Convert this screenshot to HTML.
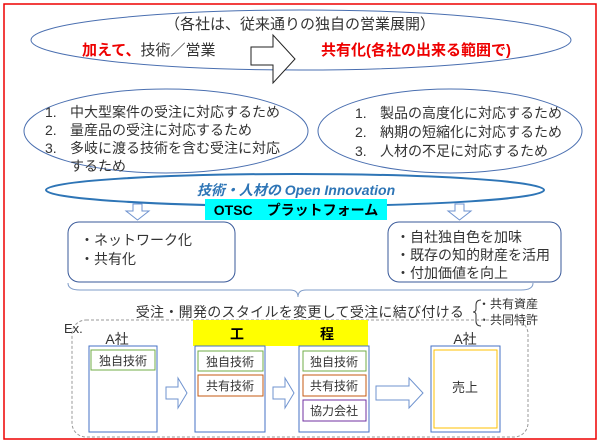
<!DOCTYPE html>
<html><head><meta charset="utf-8"><style>
html,body{margin:0;padding:0;background:#fff}
svg{display:block}
text{font-family:"Liberation Sans","Noto Sans CJK JP",sans-serif;fill:#333}
</style></head><body>
<svg width="600" height="442" viewBox="0 0 600 442" xmlns="http://www.w3.org/2000/svg">
<rect x="4" y="4" width="592" height="435" fill="#fff" stroke="#e00" stroke-width="1.5"/>
<ellipse cx="301" cy="40" rx="270" ry="30" fill="none" stroke="#4a6fb0" stroke-width="1"/>
<text x="300" y="29" font-size="15" text-anchor="middle">（各社は、従来通りの独自の営業展開）</text>
<text x="82" y="55" font-size="15"><tspan fill="#e00" font-weight="bold" style="fill:#e00">加えて、</tspan>技術／営業</text>
<polygon points="251,47 273,47 273,35 295,59 273,83 273,65 251,65" fill="#fff" stroke="#222" stroke-width="1"/>
<text x="321" y="55" font-size="15" font-weight="bold" style="fill:#e00">共有化(各社の出来る範囲で)</text>
<ellipse cx="166" cy="131" rx="142" ry="42" fill="#fff" stroke="#4a6fb0" stroke-width="1"/>
<g font-size="14">
<text x="45" y="117">1.</text><text x="70" y="117">中大型案件の受注に対応するため</text>
<text x="45" y="135">2.</text><text x="70" y="135">量産品の受注に対応するため</text>
<text x="45" y="153">3.</text><text x="70" y="153">多岐に渡る技術を含む受注に対応</text>
<text x="70" y="171">するため</text>
</g>
<ellipse cx="450" cy="131" rx="132" ry="42" fill="#fff" stroke="#4a6fb0" stroke-width="1"/>
<g font-size="14">
<text x="355" y="118">1.</text><text x="380" y="118">製品の高度化に対応するため</text>
<text x="355" y="137">2.</text><text x="380" y="137">納期の短縮化に対応するため</text>
<text x="355" y="156">3.</text><text x="380" y="156">人材の不足に対応するため</text>
</g>
<ellipse cx="295" cy="190" rx="249" ry="16" fill="#fff" stroke="#2e75b6" stroke-width="2"/>
<text x="296" y="195" font-size="14" text-anchor="middle" font-weight="bold" font-style="italic" style="fill:#2e75b6">技術・人材の Open Innovation</text>
<rect x="205" y="199" width="182" height="21" fill="#00ffff"/>
<text x="296" y="215" font-size="14" text-anchor="middle" font-weight="bold" style="fill:#000">OTSC　プラットフォーム</text>
<polygon points="133,204 142,204 142,211 149,211 137.5,220 126,211 133,211" fill="#fff" stroke="#6f93cf"/>
<polygon points="455,204 464,204 464,211 471,211 459.5,220 448,211 455,211" fill="#fff" stroke="#6f93cf"/>
<rect x="68" y="222" width="167" height="60" rx="11" fill="#fff" stroke="#3a5a9a"/>
<text x="80" y="245" font-size="14">・ネットワーク化</text>
<text x="80" y="264" font-size="14">・共有化</text>
<rect x="388" y="222" width="173" height="60" rx="11" fill="#fff" stroke="#3a5a9a"/>
<text x="396" y="242" font-size="14">・自社独自色を加味</text>
<text x="396" y="260" font-size="14">・既存の知的財産を活用</text>
<text x="396" y="278" font-size="14">・付加価値を向上</text>
<path d="M68,283 Q68,290 80,290 L290,290 Q298,290 298,297 Q298,290 306,290 L521,290 Q533,290 533,283" fill="none" stroke="#7f9cc8"/>
<text x="300" y="317" font-size="14" text-anchor="middle" letter-spacing="0.3">受注・開発のスタイルを変更して受注に結び付ける</text>
<path d="M481,300 Q476,300 476,305 L476,309 Q476,312 473,312 Q476,312 476,315 L476,321 Q476,326 481,326" fill="none" stroke="#333"/>
<text x="478" y="308" font-size="12">・共有資産</text>
<text x="478" y="324" font-size="12">・共同特許</text>
<rect x="72" y="320" width="456" height="117" rx="14" fill="none" stroke="#999" stroke-dasharray="3,2"/>
<text x="64" y="333" font-size="13">Ex.</text>
<rect x="193" y="320" width="175" height="26" fill="#ffff00"/>
<text x="237" y="339" font-size="14" text-anchor="middle" font-weight="bold" style="fill:#000">工</text>
<text x="327" y="339" font-size="14" text-anchor="middle" font-weight="bold" style="fill:#000">程</text>
<text x="117" y="344" font-size="14" text-anchor="middle">A社</text>
<text x="465" y="344" font-size="14" text-anchor="middle">A社</text>
<rect x="89" y="346" width="68" height="86" fill="#fff" stroke="#4472c4"/>
<rect x="91" y="350" width="64" height="20" fill="#fff" stroke="#70ad47"/>
<text x="123" y="365" font-size="12" text-anchor="middle">独自技術</text>
<rect x="195" y="346" width="70" height="86" fill="#fff" stroke="#4472c4"/>
<rect x="198" y="351" width="65" height="20" fill="#fff" stroke="#70ad47"/>
<text x="230" y="366" font-size="12" text-anchor="middle">独自技術</text>
<rect x="198" y="375" width="65" height="21" fill="#fff" stroke="#c55a11"/>
<text x="230" y="390" font-size="12" text-anchor="middle">共有技術</text>
<rect x="299" y="346" width="70" height="86" fill="#fff" stroke="#4472c4"/>
<rect x="303" y="351" width="63" height="20" fill="#fff" stroke="#70ad47"/>
<text x="334" y="366" font-size="12" text-anchor="middle">独自技術</text>
<rect x="303" y="375" width="63" height="21" fill="#fff" stroke="#c55a11"/>
<text x="334" y="390" font-size="12" text-anchor="middle">共有技術</text>
<rect x="303" y="400" width="63" height="21" fill="#fff" stroke="#7030a0"/>
<text x="334" y="415" font-size="12" text-anchor="middle">協力会社</text>
<rect x="431" y="346" width="69" height="86" fill="#fff" stroke="#4472c4"/>
<rect x="434" y="350" width="63" height="78" fill="#fff" stroke="#ffc000"/>
<text x="465" y="392" font-size="13" text-anchor="middle">売上</text>
<polygon points="166,387 178,387 178,378 187,393 178,408 178,399 166,399" fill="#fff" stroke="#6f93cf"/>
<polygon points="273,387 285,387 285,378 294,393 285,408 285,399 273,399" fill="#fff" stroke="#6f93cf"/>
<polygon points="376,386 409,386 409,378 423,393 409,408 409,400 376,400" fill="#fff" stroke="#6f93cf"/>
</svg>
</body></html>
